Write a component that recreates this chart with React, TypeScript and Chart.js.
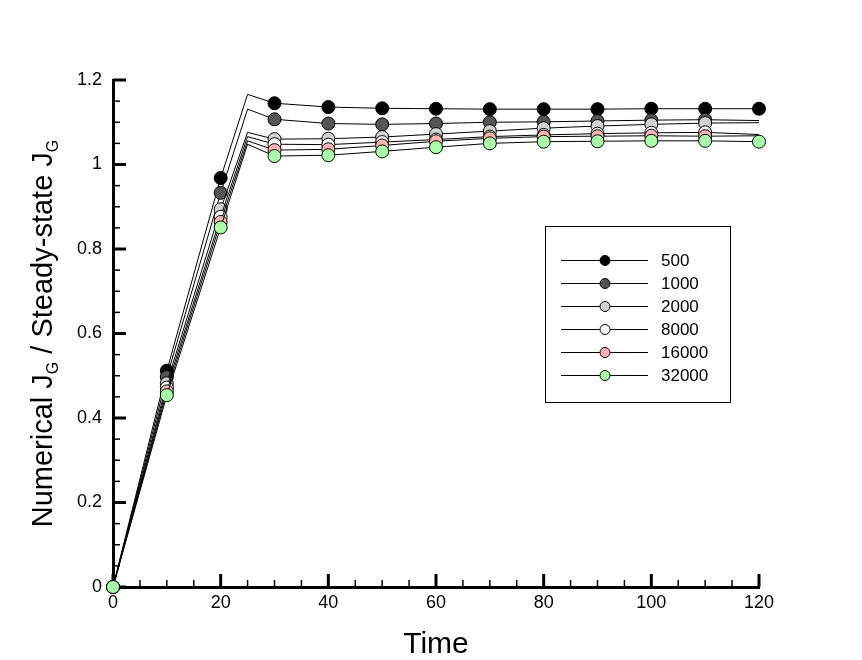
import React, { useEffect, useRef } from "react";
import { Chart, registerables } from "chart.js";

Chart.register(...registerables);

// time samples of the computed curves (markers are drawn every 10 time units)
const times = [0, 10, 20, 25, 30, 40, 50, 60, 70, 80, 90, 100, 110, 120];

const seriesLabels = ["500", "1000", "2000", "8000", "16000", "32000"];
const jg500 = [0, 0.512, 0.968, 1.166, 1.145, 1.136, 1.133, 1.132, 1.131, 1.131, 1.131, 1.132, 1.132, 1.132];
const jg1000 = [0, 0.497, 0.933, 1.131, 1.107, 1.097, 1.095, 1.097, 1.1, 1.101, 1.103, 1.105, 1.106, 1.104];
const jg2000 = [0, 0.482, 0.894, 1.076, 1.06, 1.061, 1.065, 1.072, 1.079, 1.086, 1.091, 1.095, 1.098, 1.099];
const jg8000 = [0, 0.472, 0.876, 1.066, 1.048, 1.047, 1.053, 1.059, 1.066, 1.07, 1.073, 1.075, 1.076, 1.071];
const jg16000 = [0, 0.463, 0.864, 1.056, 1.034, 1.036, 1.045, 1.055, 1.062, 1.066, 1.067, 1.068, 1.067, 1.068];
const jg32000 = [0, 0.454, 0.851, 1.048, 1.02, 1.022, 1.031, 1.041, 1.05, 1.054, 1.055, 1.056, 1.056, 1.054];

const seriesValues = [jg500, jg1000, jg2000, jg8000, jg16000, jg32000];
const markerColors = ["#000000", "#555555", "#d2d2d2", "#ffffff", "#ffb4b4", "#aaffaa"];
const lastMarkerTime = [120, 110, 110, 110, 110, 120];

const xMin = 0;
const xMax = 120;
const xMajor = 20;
const xMinor = 5;
const yMin = 0;
const yMax = 1.2;
const yMajor = 0.2;
const yMinor = 0.05;

const FONT = "'Liberation Sans', Arial, sans-serif";

// tecplot style ticks pointing into the plot, majors and minors
const innerTicks = {
  id: "innerTicks",
  beforeDatasetsDraw(chart: any) {
    const { ctx, scales } = chart;
    const x = scales.x;
    const y = scales.y;
    const bottom = y.getPixelForValue(yMin);
    const left = x.getPixelForValue(xMin);
    ctx.save();
    ctx.strokeStyle = "#000";
    for (let v = xMin; v <= xMax + 1e-9; v += xMinor) {
      const major = Math.abs(v / xMajor - Math.round(v / xMajor)) < 1e-6;
      const px = x.getPixelForValue(v);
      ctx.lineWidth = major ? 3 : 1.5;
      ctx.beginPath();
      ctx.moveTo(px, bottom);
      ctx.lineTo(px, bottom - (major ? 13 : 7));
      ctx.stroke();
    }
    for (let v = yMin; v <= yMax + 1e-9; v += yMinor) {
      const major = Math.abs(v / yMajor - Math.round(v / yMajor)) < 1e-6;
      const py = y.getPixelForValue(v);
      ctx.lineWidth = major ? 3 : 1.5;
      ctx.beginPath();
      ctx.moveTo(left, py);
      ctx.lineTo(left + (major ? 13 : 7), py);
      ctx.stroke();
    }
    ctx.restore();
  },
};

const axisTitles = {
  id: "axisTitles",
  afterDraw(chart: any) {
    const { ctx, chartArea } = chart;
    ctx.save();
    ctx.fillStyle = "#000";
    // x title
    ctx.font = `30px ${FONT}`;
    ctx.textAlign = "center";
    ctx.textBaseline = "alphabetic";
    ctx.fillText("Time", (chartArea.left + chartArea.right) / 2, 653);

    // y title with subscripts
    const parts: [string, boolean][] = [
      ["Numerical J", false],
      ["G", true],
      [" / Steady-state J", false],
      ["G", true],
    ];
    const mainFont = `29px ${FONT}`;
    const subFont = `16px ${FONT}`;
    let total = 0;
    const widths = parts.map(([t, sub]) => {
      ctx.font = sub ? subFont : mainFont;
      const w = ctx.measureText(t).width;
      total += w;
      return w;
    });
    ctx.translate(52, (chartArea.top + chartArea.bottom) / 2);
    ctx.rotate(-Math.PI / 2);
    ctx.textAlign = "left";
    let pos = -total / 2;
    parts.forEach(([t, sub], i) => {
      ctx.font = sub ? subFont : mainFont;
      ctx.fillText(t, pos, sub ? 6 : 0);
      pos += widths[i];
    });
    ctx.restore();
  },
};

const boxLegend = {
  id: "boxLegend",
  afterDraw(chart: any) {
    const { ctx } = chart;
    const left = 545.5;
    const top = 226.5;
    ctx.save();
    ctx.fillStyle = "#fff";
    ctx.fillRect(left, top, 185, 176);
    ctx.strokeStyle = "#000";
    ctx.lineWidth = 1;
    ctx.strokeRect(left, top, 185, 176);
    ctx.font = `17px ${FONT}`;
    ctx.textBaseline = "middle";
    ctx.textAlign = "left";
    chart.data.datasets.forEach((ds: any, i: number) => {
      const cy = 260 + i * 23;
      ctx.strokeStyle = "#000";
      ctx.lineWidth = 1;
      ctx.beginPath();
      ctx.moveTo(561, cy + 0.5);
      ctx.lineTo(648, cy + 0.5);
      ctx.stroke();
      ctx.beginPath();
      ctx.arc(605, cy + 0.5, 5, 0, Math.PI * 2);
      ctx.fillStyle = ds.pointBackgroundColor;
      ctx.fill();
      ctx.stroke();
      ctx.fillStyle = "#000";
      ctx.fillText(ds.label, 661, cy + 1);
    });
    ctx.restore();
  },
};

export default function App() {
  const chartRef = useRef<HTMLCanvasElement>(null);

  useEffect(() => {
    if (!chartRef.current) return;
    const chart = new Chart(chartRef.current, {
      type: "line",
      data: {
        datasets: seriesLabels.map((label, i) => ({
          label,
          data: times.map((t, k) => ({ x: t, y: seriesValues[i][k] })),
          // later series are painted over earlier ones
          order: seriesLabels.length - i,
          borderColor: "#000",
          borderWidth: 1,
          tension: 0,
          fill: false,
          clip: false,
          pointBackgroundColor: markerColors[i],
          pointBorderColor: "#000",
          pointBorderWidth: 1,
          pointRadius: (ctx: any) => {
            const t = times[ctx.dataIndex];
            return t % 10 === 0 && t <= lastMarkerTime[i] ? 6.5 : 0;
          },
          pointHoverRadius: 0,
        })),
      },
      options: {
        animation: false,
        responsive: true,
        maintainAspectRatio: false,
        events: [],
        layout: { padding: { top: 80, right: 103, left: 0, bottom: 0 } },
        plugins: {
          legend: { display: false },
          tooltip: { enabled: false },
        },
        scales: {
          x: {
            type: "linear",
            min: xMin,
            max: xMax,
            afterFit: (s: any) => {
              s.height = 73;
            },
            ticks: {
              stepSize: xMajor,
              color: "#000",
              font: { family: FONT, size: 18 },
              padding: 5,
              maxRotation: 0,
              autoSkip: false,
            },
            grid: { drawOnChartArea: false, drawTicks: false },
            border: { color: "#000", width: 3 },
          },
          y: {
            type: "linear",
            min: yMin,
            max: yMax,
            afterFit: (s: any) => {
              s.width = 113;
            },
            ticks: {
              stepSize: yMajor,
              color: "#000",
              font: { family: FONT, size: 18 },
              padding: 11,
              callback: (v: any) => String(+Number(v).toFixed(2)),
            },
            grid: { drawOnChartArea: false, drawTicks: false },
            border: { color: "#000", width: 3 },
          },
        },
      },
      plugins: [innerTicks, axisTitles, boxLegend],
    });
    return () => {
      chart.destroy();
    };
  }, []);

  return (
    <div style={{ position: "absolute", left: 0, top: 0, width: 862, height: 660, background: "#fff" }}>
      <canvas ref={chartRef} />
    </div>
  );
}
